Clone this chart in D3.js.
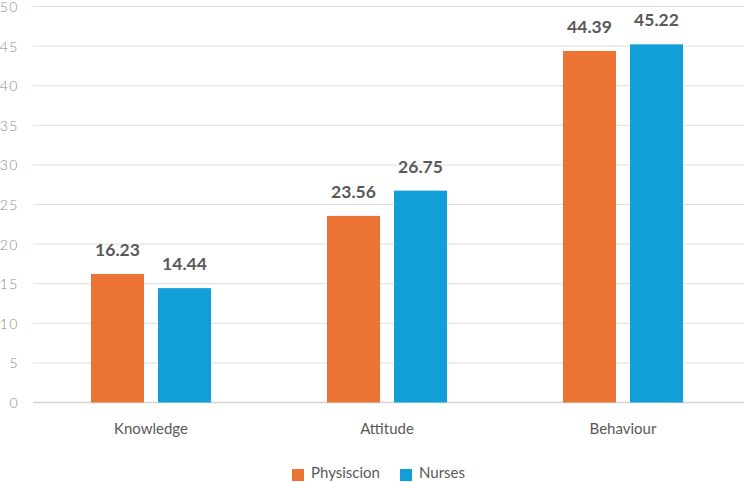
<!DOCTYPE html>
<html>
<head>
<meta charset="utf-8">
<script src="https://cdn.jsdelivr.net/npm/d3@7"></script>
<style>
  body { margin: 0; background: #fff; }
  svg { display: block; font-family: Lato, "Open Sans", sans-serif; }
</style>
</head>
<body>
<svg id="chart" width="744" height="482"></svg>
<script>
const categories = ["Knowledge", "Attitude", "Behaviour"];
const seriesNames = ["Physiscion", "Nurses"];
const physician = [16.23, 23.56, 44.39];
const nurses = [14.44, 26.75, 45.22];
const yTicks = [0, 5, 10, 15, 20, 25, 30, 35, 40, 45, 50];
const colors = ["#EB7333", "#129FD7"];

const svg = d3.select("#chart");

const x = d3.scaleBand()
  .domain(categories)
  .range([33, 741]);

// two bars per group, 53px wide with a 14px gap, centred in the band
const inner = d3.scaleBand()
  .domain(seriesNames)
  .range([x.bandwidth() / 2 - 60, x.bandwidth() / 2 + 60])
  .paddingInner(0.209)
  .paddingOuter(0);

const y = d3.scaleLinear()
  .domain([0, 50])
  .range([402.5, 6.5]);

// gridlines
svg.append("g")
  .selectAll("line")
  .data(yTicks)
  .join("line")
  .attr("x1", 33)
  .attr("x2", 744)
  .attr("y1", d => y(d))
  .attr("y2", d => y(d))
  .attr("stroke", d => d === 0 ? "#d4d4d4" : "#dedede")
  .attr("stroke-width", d => d === 0 ? 1.5 : 1);

// y axis labels
const yAxis = d3.axisLeft(y).tickValues(yTicks).tickSize(0).tickPadding(0);
const ya = svg.append("g").attr("transform", "translate(19,0)").call(yAxis);
ya.select(".domain").remove();
ya.selectAll("text")
  .attr("fill", "#8c8c8c")
  .attr("dy", "0.36em")
  .style("letter-spacing", "1.5px")
  .style("font", "300 14px Lato, sans-serif");

// bars
const rows = categories.map((c, i) => ({
  cat: c,
  vals: [physician[i], nurses[i]]
}));

const groups = svg.append("g")
  .selectAll("g")
  .data(rows)
  .join("g")
  .attr("transform", d => `translate(${x(d.cat)},0)`);

groups.selectAll("rect")
  .data(d => d.vals.map((v, j) => ({ name: seriesNames[j], v, j })))
  .join("rect")
  .attr("x", d => inner(d.name))
  .attr("width", inner.bandwidth())
  .attr("y", d => y(d.v))
  .attr("height", d => y(0) - y(d.v))
  .attr("fill", d => colors[d.j]);

groups.selectAll("text.val")
  .data(d => d.vals.map((v, j) => ({ name: seriesNames[j], v, j })))
  .join("text")
  .attr("class", "val")
  .attr("x", d => inner(d.name) + inner.bandwidth() / 2)
  .attr("y", d => y(d.v) - 18)
  .attr("text-anchor", "middle")
  .attr("fill", "#595959")
  .style("font", "bold 17.5px Lato, sans-serif")
  .text(d => d.v.toFixed(2));

// x axis labels
const xAxis = d3.axisBottom(x).tickSize(0).tickPadding(0);
const xa = svg.append("g").attr("transform", "translate(0,434)").call(xAxis);
xa.select(".domain").remove();
xa.selectAll("text")
  .attr("y", 0)
  .attr("dy", 0)
  .attr("fill", "#595959")
  .style("font", "15px Lato, sans-serif");

// legend
const legend = svg.append("g").attr("transform", "translate(292,469)");
const legendX = [0, 108];
seriesNames.forEach((name, i) => {
  const g = legend.append("g").attr("transform", `translate(${legendX[i]},0)`);
  g.append("rect")
    .attr("width", 12)
    .attr("height", 12)
    .attr("fill", colors[i]);
  g.append("text")
    .attr("x", 19)
    .attr("y", 9)
    .attr("fill", "#595959")
    .style("font", "15px Lato, sans-serif")
    .text(name);
});
</script>
</body>
</html>
